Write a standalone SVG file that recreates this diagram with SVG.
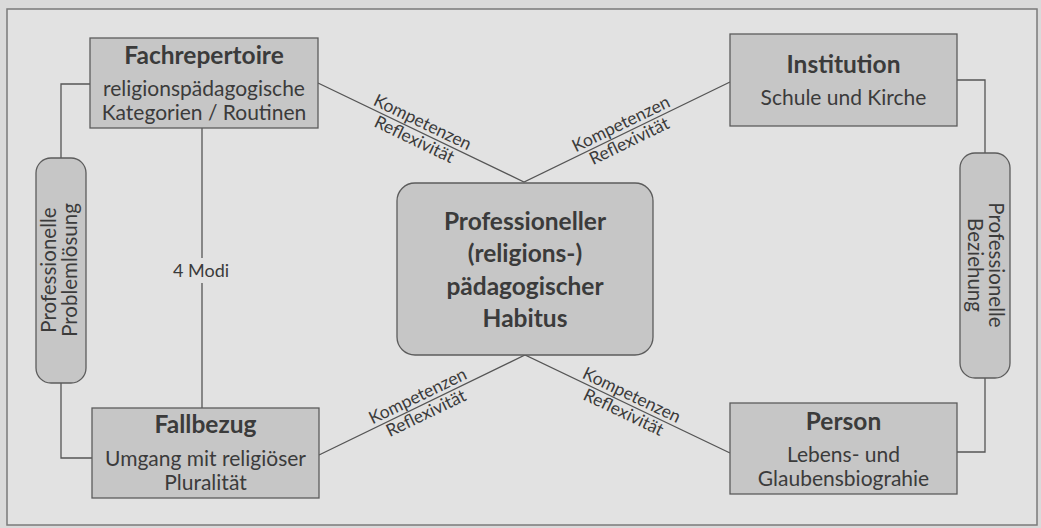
<svg xmlns="http://www.w3.org/2000/svg" width="1041" height="528" viewBox="0 0 1041 528">
  <style>
    .frame { fill: #e2e2e2; stroke: #7a7a7a; stroke-width: 1.5; }
    .box { fill: #c6c6c6; stroke: #5c5c5c; stroke-width: 1.3; }
    .wire { fill: none; stroke: #555555; stroke-width: 1.3; }
    text { font-family: Lato, "Open Sans", "Liberation Sans", sans-serif; fill: #3b3b3b; text-anchor: middle; }
    .title { font-size: 24.5px; font-weight: 700; }
    .core { font-size: 24.5px; font-weight: 700; }
    .sub { font-size: 21px; }
    .pill { font-size: 20.5px; }
    .edge { font-size: 17.5px; }
    .modi { font-size: 18px; }
  </style>

  <!-- page and outer frame -->
  <rect x="0" y="0" width="1041" height="528" fill="#dadada"/>
  <rect class="frame" x="7" y="9" width="1030" height="516"/>

  <!-- connectors -->
  <g id="connectors">
    <polyline class="wire" points="90,84 61,84 61,158"/>
    <polyline class="wire" points="61,383 61,458 92,458"/>
    <line class="wire" x1="202" y1="128" x2="202" y2="258"/>
    <line class="wire" x1="202" y1="283" x2="202" y2="408"/>
    <polyline class="wire" points="957,80 985,80 985,153"/>
    <polyline class="wire" points="985,378 985,452 957,452"/>
    <polyline class="wire" points="318,83 524,182 730,82"/>
    <polyline class="wire" points="319,455 525,355 730,453"/>
    <text class="modi" x="201" y="277">4 Modi</text>
    <g transform="translate(421,132.5) rotate(25.67)">
      <text class="edge" x="-3" y="-4">Kompetenzen</text>
      <text class="edge" x="-3" y="15">Reflexivität</text>
    </g>
    <g transform="translate(627,132) rotate(-25.89)">
      <text class="edge" x="-2" y="-4">Kompetenzen</text>
      <text class="edge" x="-2" y="15">Reflexivität</text>
    </g>
    <g transform="translate(422,405) rotate(-25.89)">
      <text class="edge" x="0" y="-4">Kompetenzen</text>
      <text class="edge" x="0" y="15">Reflexivität</text>
    </g>
    <g transform="translate(627.5,404) rotate(25.55)">
      <text class="edge" x="0" y="-4">Kompetenzen</text>
      <text class="edge" x="0" y="15">Reflexivität</text>
    </g>
  </g>

  <g id="fachrepertoire">
    <rect class="box" x="90" y="38" width="228" height="90"/>
    <text class="title" x="204" y="64">Fachrepertoire</text>
    <text class="sub" x="204" y="96">religionspädagogische</text>
    <text class="sub" x="204" y="120">Kategorien / Routinen</text>
  </g>

  <g id="institution">
    <rect class="box" x="730" y="34" width="227" height="92"/>
    <text class="title" x="843.5" y="73">Institution</text>
    <text class="sub" x="843.5" y="105">Schule und Kirche</text>
  </g>

  <g id="habitus">
    <rect class="box" x="397" y="183" width="256" height="172" rx="18" ry="18"/>
    <text class="core" x="525" y="230">Professioneller</text>
    <text class="core" x="525" y="262">(religions-)</text>
    <text class="core" x="525" y="295">pädagogischer</text>
    <text class="core" x="525" y="327">Habitus</text>
  </g>

  <g id="fallbezug">
    <rect class="box" x="92" y="408" width="227" height="90"/>
    <text class="title" x="205.5" y="433">Fallbezug</text>
    <text class="sub" x="205.5" y="466">Umgang mit religiöser</text>
    <text class="sub" x="205.5" y="490">Pluralität</text>
  </g>

  <g id="person">
    <rect class="box" x="730" y="403" width="227" height="91"/>
    <text class="title" x="843.5" y="430">Person</text>
    <text class="sub" x="843.5" y="462">Lebens- und</text>
    <text class="sub" x="843.5" y="486">Glaubensbiograhie</text>
  </g>

  <g id="problemloesung">
    <rect class="box" x="36" y="158" width="50" height="225" rx="15" ry="15"/>
    <text class="pill" transform="translate(56,270) rotate(-90)">Professionelle</text>
    <text class="pill" transform="translate(77,270) rotate(-90)">Problemlösung</text>
  </g>

  <g id="beziehung">
    <rect class="box" x="960" y="153" width="50" height="225" rx="15" ry="15"/>
    <text class="pill" transform="translate(989,265) rotate(90)">Professionelle</text>
    <text class="pill" transform="translate(968,265) rotate(90)">Beziehung</text>
  </g>
</svg>
